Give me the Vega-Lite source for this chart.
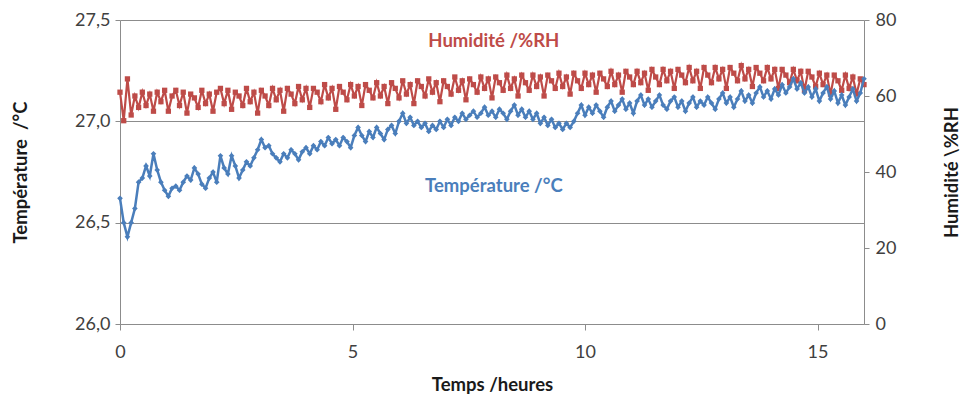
{
"$schema": "https://vega.github.io/schema/vega-lite/v6.json",
"width": 744, "height": 304,
"autosize": "none",
"padding": {"left": 120, "top": 20, "right": 99, "bottom": 79},
"background": "white",
"config": {"view": {"stroke": null}, "font": "Lato",
 "axis": {"domainColor": "#8c8c8c", "tickColor": "#8c8c8c", "labelFont": "Lato", "labelFontSize": 18, "labelColor": "#404040", "titleFont": "Lato", "titleFontSize": 18.5, "titleFontWeight": "bold", "titleColor": "#1a1a1a", "tickSize": 5, "labelFlush": false}},
"datasets": {
"d": [
{"t":0,"T":26.62,"H":61},{"t":0.08,"T":26.50,"H":53.5},{"t":0.16,"T":26.43,"H":64.5},{"t":0.24,"T":26.50,"H":55},{"t":0.32,"T":26.57,"H":60},
{"t":0.40,"T":26.70,"H":57},{"t":0.48,"T":26.72,"H":61},{"t":0.56,"T":26.78,"H":57.5},{"t":0.64,"T":26.73,"H":60.5},{"t":0.72,"T":26.84,"H":56},
{"t":0.80,"T":26.76,"H":61},{"t":0.88,"T":26.70,"H":58.5},{"t":0.96,"T":26.66,"H":61.5},{"t":1.04,"T":26.63,"H":56},{"t":1.12,"T":26.67,"H":60},
{"t":1.20,"T":26.68,"H":61.5},{"t":1.28,"T":26.66,"H":57.5},{"t":1.36,"T":26.70,"H":61},{"t":1.44,"T":26.73,"H":55.5},{"t":1.52,"T":26.71,"H":60.5},
{"t":1.60,"T":26.77,"H":59.5},{"t":1.68,"T":26.74,"H":57},{"t":1.76,"T":26.69,"H":61.5},{"t":1.84,"T":26.67,"H":58},{"t":1.92,"T":26.72,"H":60.5},
{"t":2.00,"T":26.75,"H":56},{"t":2.08,"T":26.70,"H":61},{"t":2.16,"T":26.83,"H":62},{"t":2.24,"T":26.77,"H":58},{"t":2.32,"T":26.74,"H":61.5},
{"t":2.40,"T":26.83,"H":56.5},{"t":2.48,"T":26.78,"H":61},{"t":2.56,"T":26.72,"H":60},{"t":2.64,"T":26.76,"H":57.5},{"t":2.72,"T":26.80,"H":62},
{"t":2.80,"T":26.78,"H":58.5},{"t":2.88,"T":26.82,"H":61},{"t":2.96,"T":26.86,"H":55.5},{"t":3.04,"T":26.91,"H":61.5},{"t":3.12,"T":26.87,"H":60},
{"t":3.20,"T":26.88,"H":57.5},{"t":3.28,"T":26.84,"H":62},{"t":3.36,"T":26.82,"H":59},{"t":3.44,"T":26.80,"H":61.5},{"t":3.52,"T":26.84,"H":56},
{"t":3.60,"T":26.82,"H":62},{"t":3.68,"T":26.86,"H":60.5},{"t":3.76,"T":26.84,"H":58},{"t":3.84,"T":26.81,"H":62.5},{"t":3.92,"T":26.85,"H":59},
{"t":4.00,"T":26.87,"H":62},{"t":4.08,"T":26.84,"H":57},{"t":4.16,"T":26.88,"H":62},{"t":4.24,"T":26.86,"H":61},{"t":4.32,"T":26.90,"H":58.5},
{"t":4.40,"T":26.88,"H":63},{"t":4.48,"T":26.92,"H":59.5},{"t":4.56,"T":26.89,"H":62},{"t":4.64,"T":26.91,"H":56.5},{"t":4.72,"T":26.88,"H":62.5},
{"t":4.80,"T":26.92,"H":61},{"t":4.88,"T":26.90,"H":59},{"t":4.96,"T":26.87,"H":63},{"t":5.04,"T":26.93,"H":60},{"t":5.12,"T":26.97,"H":62.5},
{"t":5.20,"T":26.93,"H":57.5},{"t":5.28,"T":26.90,"H":63},{"t":5.36,"T":26.95,"H":61.5},{"t":5.44,"T":26.92,"H":59.5},{"t":5.52,"T":26.97,"H":63.5},
{"t":5.60,"T":26.94,"H":60},{"t":5.68,"T":26.91,"H":62.5},{"t":5.76,"T":26.96,"H":58},{"t":5.84,"T":26.98,"H":63.5},{"t":5.92,"T":26.94,"H":62},
{"t":6.00,"T":27.00,"H":59.5},{"t":6.08,"T":27.04,"H":64},{"t":6.16,"T":26.99,"H":60.5},{"t":6.24,"T":27.02,"H":63},{"t":6.32,"T":26.98,"H":58},
{"t":6.40,"T":27.00,"H":64},{"t":6.48,"T":26.97,"H":62.5},{"t":6.56,"T":26.99,"H":60},{"t":6.64,"T":26.95,"H":64.5},{"t":6.72,"T":26.98,"H":61},
{"t":6.80,"T":26.96,"H":63.5},{"t":6.88,"T":27.00,"H":58.5},{"t":6.96,"T":26.97,"H":64},{"t":7.04,"T":27.01,"H":62.5},{"t":7.12,"T":26.98,"H":60.5},
{"t":7.20,"T":27.02,"H":65},{"t":7.28,"T":27.00,"H":61.5},{"t":7.36,"T":27.04,"H":64},{"t":7.44,"T":27.01,"H":59},{"t":7.52,"T":27.03,"H":64.5},
{"t":7.60,"T":27.05,"H":63},{"t":7.68,"T":27.02,"H":61},{"t":7.76,"T":27.04,"H":65},{"t":7.84,"T":27.07,"H":62},{"t":7.92,"T":27.03,"H":64.5},
{"t":8.00,"T":27.05,"H":59.5},{"t":8.08,"T":27.02,"H":65},{"t":8.16,"T":27.06,"H":63.5},{"t":8.24,"T":27.04,"H":61.5},{"t":8.32,"T":27.01,"H":65.5},
{"t":8.40,"T":27.05,"H":62},{"t":8.48,"T":27.08,"H":64.5},{"t":8.56,"T":27.03,"H":60},{"t":8.64,"T":27.06,"H":65.5},{"t":8.72,"T":27.02,"H":63.5},
{"t":8.80,"T":27.05,"H":61.5},{"t":8.88,"T":27.01,"H":65.5},{"t":8.96,"T":27.04,"H":62.5},{"t":9.04,"T":26.99,"H":65},{"t":9.12,"T":27.02,"H":60},
{"t":9.20,"T":26.98,"H":65.5},{"t":9.28,"T":27.01,"H":64},{"t":9.36,"T":26.97,"H":62},{"t":9.44,"T":26.99,"H":66},{"t":9.52,"T":26.96,"H":62.5},
{"t":9.60,"T":26.99,"H":65},{"t":9.68,"T":26.97,"H":60.5},{"t":9.76,"T":27.00,"H":66},{"t":9.84,"T":27.04,"H":64},{"t":9.92,"T":27.08,"H":62},
{"t":10.00,"T":27.03,"H":66},{"t":10.08,"T":27.07,"H":63},{"t":10.16,"T":27.04,"H":65.5},{"t":10.24,"T":27.08,"H":61},{"t":10.32,"T":27.05,"H":66},
{"t":10.40,"T":27.02,"H":64.5},{"t":10.48,"T":27.07,"H":62.5},{"t":10.56,"T":27.10,"H":66.5},{"t":10.64,"T":27.05,"H":63},{"t":10.72,"T":27.08,"H":65.5},
{"t":10.80,"T":27.11,"H":61},{"t":10.88,"T":27.06,"H":66.5},{"t":10.96,"T":27.09,"H":65},{"t":11.04,"T":27.04,"H":63},{"t":11.12,"T":27.10,"H":66.5},
{"t":11.20,"T":27.13,"H":63.5},{"t":11.28,"T":27.08,"H":66},{"t":11.36,"T":27.11,"H":61.5},{"t":11.44,"T":27.07,"H":67},{"t":11.52,"T":27.10,"H":65},
{"t":11.60,"T":27.13,"H":63},{"t":11.68,"T":27.08,"H":67},{"t":11.76,"T":27.06,"H":64},{"t":11.84,"T":27.10,"H":66.5},{"t":11.92,"T":27.12,"H":62},
{"t":12.00,"T":27.07,"H":67},{"t":12.08,"T":27.10,"H":65.5},{"t":12.16,"T":27.05,"H":63.5},{"t":12.24,"T":27.09,"H":67.5},{"t":12.32,"T":27.12,"H":64},
{"t":12.40,"T":27.07,"H":66.5},{"t":12.48,"T":27.10,"H":62},{"t":12.56,"T":27.08,"H":67.5},{"t":12.64,"T":27.12,"H":65.5},{"t":12.72,"T":27.09,"H":63.5},
{"t":12.80,"T":27.06,"H":67.5},{"t":12.88,"T":27.11,"H":64.5},{"t":12.96,"T":27.14,"H":67},{"t":13.04,"T":27.09,"H":62},{"t":13.12,"T":27.12,"H":67.5},
{"t":13.20,"T":27.07,"H":66},{"t":13.28,"T":27.11,"H":64},{"t":13.36,"T":27.15,"H":68},{"t":13.44,"T":27.10,"H":64.5},{"t":13.52,"T":27.13,"H":67},
{"t":13.60,"T":27.09,"H":62.5},{"t":13.68,"T":27.14,"H":67.5},{"t":13.76,"T":27.17,"H":66},{"t":13.84,"T":27.12,"H":64},{"t":13.92,"T":27.15,"H":67.5},
{"t":14.00,"T":27.11,"H":64.5},{"t":14.08,"T":27.16,"H":67},{"t":14.16,"T":27.13,"H":62},{"t":14.24,"T":27.18,"H":67},{"t":14.32,"T":27.14,"H":65.5},
{"t":14.40,"T":27.17,"H":63.5},{"t":14.48,"T":27.21,"H":67},{"t":14.56,"T":27.16,"H":64},{"t":14.64,"T":27.19,"H":66.5},{"t":14.72,"T":27.14,"H":61.5},
{"t":14.80,"T":27.17,"H":66.5},{"t":14.88,"T":27.12,"H":65},{"t":14.96,"T":27.16,"H":62.5},{"t":15.04,"T":27.10,"H":66},{"t":15.12,"T":27.14,"H":63},
{"t":15.20,"T":27.17,"H":65.5},{"t":15.28,"T":27.11,"H":60.5},{"t":15.36,"T":27.15,"H":65.5},{"t":15.44,"T":27.09,"H":64},{"t":15.52,"T":27.13,"H":61.5},
{"t":15.60,"T":27.08,"H":65.5},{"t":15.68,"T":27.12,"H":62},{"t":15.76,"T":27.16,"H":65},{"t":15.84,"T":27.10,"H":60.5},{"t":15.92,"T":27.14,"H":64.5},
{"t":16.00,"T":27.21,"H":63}
],
"labH": [{"t": 8.04, "v": 74.5, "s": "Humidité /%RH"}],
"labT": [{"t": 8.04, "v": 26.68, "s": "Température /°C"}]
},
"layer": [
 {"layer": [
   {"data": {"name": "d"},
    "mark": {"type": "line", "color": "#BE4B48", "strokeWidth": 2.2, "point": {"shape": "square", "size": 28, "filled": true, "color": "#BE4B48"}},
    "encoding": {
      "x": {"field": "t", "type": "quantitative", "scale": {"domain": [0, 16], "nice": false},
            "axis": {"title": "Temps /heures", "values": [0, 5, 10, 15], "grid": false, "tickSize": 6, "labelPadding": 13, "titlePadding": 14}},
      "y": {"field": "H", "type": "quantitative", "scale": {"domain": [0, 80], "nice": false},
            "axis": {"orient": "right", "title": "Humidité \\%RH", "titleAngle": -90, "values": [0, 20, 40, 60, 80], "grid": false, "labelPadding": 6, "titlePadding": 66}}
    }},
   {"data": {"name": "labH"},
    "mark": {"type": "text", "color": "#BE4B48", "fontWeight": "bold", "fontSize": 18.5, "font": "Lato"},
    "encoding": {
      "x": {"field": "t", "type": "quantitative"},
      "y": {"field": "v", "type": "quantitative"},
      "text": {"field": "s"}
    }}
 ]},
 {"layer": [
   {"data": {"name": "d"},
    "mark": {"type": "line", "color": "#4A7EBB", "strokeWidth": 2.5, "point": {"shape": "diamond", "size": 32, "filled": true, "color": "#4A7EBB"}},
    "encoding": {
      "x": {"field": "t", "type": "quantitative", "scale": {"domain": [0, 16], "nice": false}},
      "y": {"field": "T", "type": "quantitative", "scale": {"domain": [26, 27.5], "nice": false},
            "axis": {"orient": "left", "title": "Température\u00a0\u00a0/°C", "values": [26, 26.5, 27, 27.5], "grid": true, "gridColor": "#8c8c8c", "gridWidth": 1, "labelPadding": 5, "titlePadding": 44,
                     "labelExpr": "replace(format(datum.value, '.1f'), '.', ',')"}}
    }},
   {"data": {"name": "labT"},
    "mark": {"type": "text", "color": "#4A7EBB", "fontWeight": "bold", "fontSize": 18.5, "font": "Lato"},
    "encoding": {
      "x": {"field": "t", "type": "quantitative"},
      "y": {"field": "v", "type": "quantitative"},
      "text": {"field": "s"}
    }}
 ]}
],
"resolve": {"scale": {"y": "independent"}, "axis": {"y": "independent"}}
}
